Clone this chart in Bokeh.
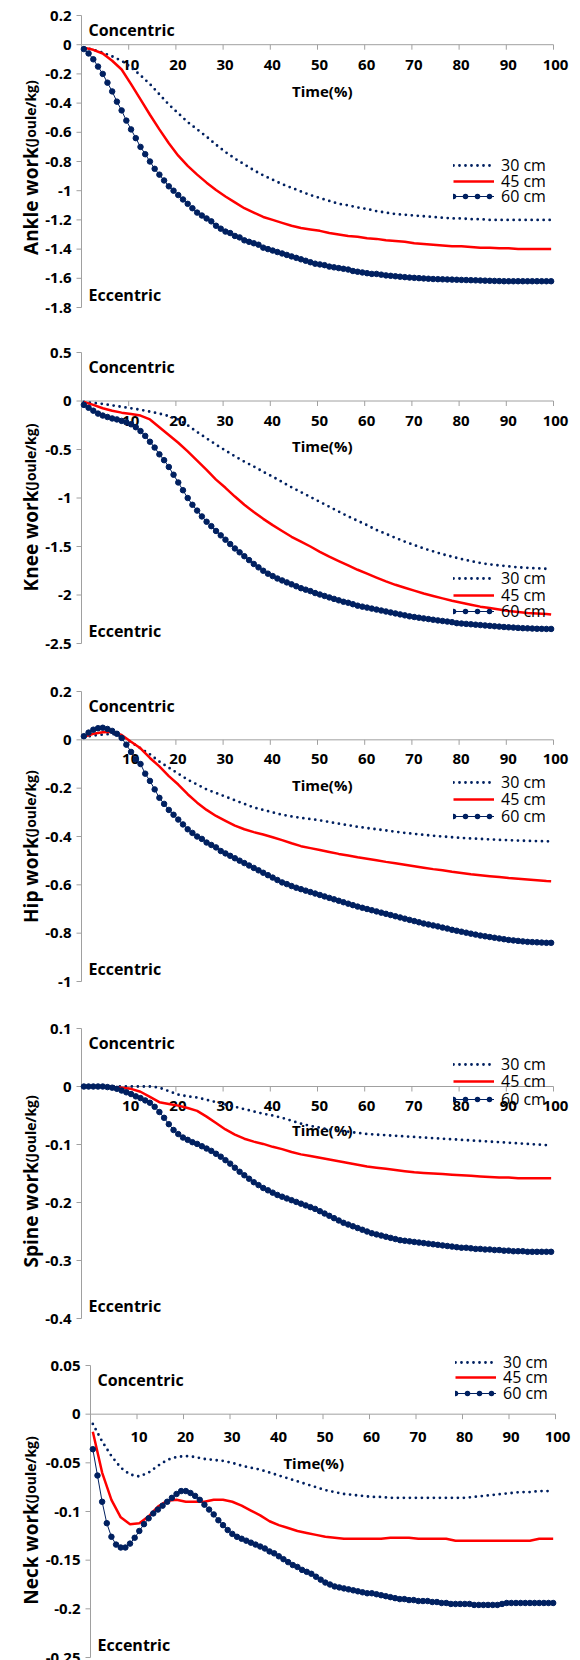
import math
from bokeh.plotting import figure
from bokeh.models import Range1d, Label, Legend, LegendItem
from bokeh.layouts import column
from bokeh.embed import file_html
from bokeh.resources import INLINE
from bokeh.core.properties import value

# ---------------- data ----------------
time_dense = list(range(1, 101))                 # every 1 % (marker series)
time_sparse = list(range(1, 100, 2)) + [100]     # every 2 % (line series)
x_ticks = [10, 20, 30, 40, 50, 60, 70, 80, 90, 100]
x_tick_labels = ["10", "20", "30", "40", "50", "60", "70", "80", "90", "100"]
series_labels = ["30 cm", "45 cm", "60 cm"]

ankle_ticks = [0.2, 0, -0.2, -0.4, -0.6, -0.8, -1, -1.2, -1.4, -1.6, -1.8]
knee_ticks = [0.5, 0, -0.5, -1, -1.5, -2, -2.5]
hip_ticks = [0.2, 0, -0.2, -0.4, -0.6, -0.8, -1]
spine_ticks = [0.1, 0, -0.1, -0.2, -0.3, -0.4]
neck_ticks = [0.05, 0, -0.05, -0.1, -0.15, -0.2, -0.25]

ankle_30 = [-0.02, -0.035, -0.055, -0.08, -0.11, -0.155, -0.21, -0.27, -0.34, -0.41,
            -0.47, -0.53, -0.58, -0.63, -0.685, -0.735, -0.78, -0.82, -0.86, -0.895,
            -0.925, -0.955, -0.98, -1.005, -1.03, -1.05, -1.07, -1.09, -1.10, -1.115,
            -1.125, -1.14, -1.15, -1.16, -1.165, -1.17, -1.175, -1.18, -1.185, -1.19,
            -1.19, -1.195, -1.195, -1.2, -1.2, -1.2, -1.2, -1.2, -1.2, -1.2,
            -1.2]
ankle_45 = [-0.02, -0.035, -0.06, -0.11, -0.17, -0.27, -0.375, -0.48, -0.58, -0.675,
            -0.76, -0.83, -0.89, -0.945, -0.995, -1.04, -1.08, -1.12, -1.15, -1.18,
            -1.20, -1.22, -1.24, -1.255, -1.265, -1.275, -1.29, -1.30, -1.31, -1.315,
            -1.325, -1.33, -1.34, -1.345, -1.35, -1.36, -1.365, -1.37, -1.375, -1.38,
            -1.38, -1.385, -1.39, -1.39, -1.395, -1.395, -1.40, -1.40, -1.40, -1.40,
            -1.40]
ankle_60 = [-0.03, -0.06, -0.10, -0.15, -0.20, -0.26, -0.32, -0.39, -0.45, -0.52,
            -0.58, -0.64, -0.70, -0.75, -0.80, -0.85, -0.89, -0.93, -0.97, -1.00,
            -1.03, -1.06, -1.09, -1.12, -1.15, -1.17, -1.19, -1.21, -1.24, -1.26,
            -1.28, -1.29, -1.31, -1.32, -1.34, -1.35, -1.36, -1.37, -1.39, -1.40,
            -1.41, -1.42, -1.43, -1.44, -1.45, -1.46, -1.47, -1.48, -1.49, -1.50,
            -1.505, -1.51, -1.52, -1.525, -1.53, -1.535, -1.54, -1.55, -1.555, -1.56,
            -1.565, -1.57, -1.57, -1.575, -1.58, -1.583, -1.586, -1.589, -1.592, -1.595,
            -1.597, -1.599, -1.601, -1.603, -1.605, -1.606, -1.607, -1.608, -1.609, -1.61,
            -1.611, -1.612, -1.613, -1.614, -1.615, -1.616, -1.617, -1.618, -1.619, -1.62,
            -1.62, -1.62, -1.62, -1.62, -1.62, -1.62, -1.62, -1.62, -1.62, -1.62]

knee_30 = [-0.01, -0.02, -0.03, -0.045, -0.06, -0.075, -0.09, -0.11, -0.13, -0.155,
           -0.19, -0.25, -0.32, -0.385, -0.45, -0.51, -0.57, -0.625, -0.675, -0.73,
           -0.78, -0.835, -0.89, -0.94, -0.99, -1.04, -1.09, -1.14, -1.19, -1.235,
           -1.28, -1.33, -1.37, -1.41, -1.45, -1.485, -1.52, -1.55, -1.58, -1.605,
           -1.63, -1.65, -1.67, -1.685, -1.695, -1.705, -1.715, -1.72, -1.725, -1.73,
           -1.73]
knee_45 = [-0.01, -0.04, -0.075, -0.10, -0.12, -0.135, -0.15, -0.19, -0.27, -0.35,
           -0.43, -0.52, -0.615, -0.71, -0.81, -0.895, -0.985, -1.07, -1.145, -1.215,
           -1.28, -1.34, -1.40, -1.45, -1.50, -1.555, -1.605, -1.65, -1.695, -1.74,
           -1.78, -1.82, -1.86, -1.895, -1.925, -1.955, -1.985, -2.01, -2.035, -2.06,
           -2.08, -2.10, -2.12, -2.135, -2.15, -2.165, -2.175, -2.185, -2.19, -2.195,
           -2.20]
knee_60 = [-0.04, -0.07, -0.10, -0.13, -0.15, -0.165, -0.18, -0.19, -0.205, -0.22,
           -0.24, -0.27, -0.31, -0.36, -0.42, -0.48, -0.55, -0.61, -0.68, -0.76,
           -0.84, -0.92, -1.00, -1.07, -1.13, -1.19, -1.245, -1.29, -1.34, -1.385,
           -1.43, -1.475, -1.52, -1.56, -1.60, -1.64, -1.68, -1.715, -1.75, -1.78,
           -1.805, -1.83, -1.85, -1.87, -1.89, -1.91, -1.93, -1.945, -1.96, -1.98,
           -1.995, -2.01, -2.025, -2.04, -2.055, -2.07, -2.08, -2.095, -2.11, -2.12,
           -2.13, -2.14, -2.15, -2.16, -2.17, -2.18, -2.19, -2.20, -2.21, -2.22,
           -2.227, -2.234, -2.241, -2.248, -2.255, -2.262, -2.268, -2.274, -2.28, -2.29,
           -2.294, -2.298, -2.302, -2.306, -2.31, -2.314, -2.318, -2.322, -2.326, -2.33,
           -2.333, -2.336, -2.339, -2.342, -2.344, -2.346, -2.348, -2.349, -2.35, -2.35]

hip_30 = [0.01, 0.018, 0.022, 0.025, 0.015, -0.01, -0.035, -0.06, -0.09, -0.115,
          -0.14, -0.165, -0.185, -0.205, -0.22, -0.235, -0.25, -0.265, -0.28, -0.29,
          -0.30, -0.31, -0.317, -0.323, -0.328, -0.333, -0.34, -0.347, -0.353, -0.36,
          -0.365, -0.37, -0.375, -0.38, -0.385, -0.389, -0.393, -0.397, -0.40, -0.403,
          -0.406, -0.408, -0.41, -0.412, -0.414, -0.415, -0.417, -0.418, -0.419, -0.42,
          -0.42]
hip_45 = [0.012, 0.025, 0.031, 0.033, 0.02, -0.008, -0.035, -0.075, -0.11, -0.15,
          -0.185, -0.225, -0.26, -0.29, -0.315, -0.335, -0.355, -0.37, -0.382, -0.392,
          -0.403, -0.415, -0.428, -0.44, -0.448, -0.456, -0.464, -0.472, -0.479, -0.486,
          -0.492, -0.498, -0.505, -0.511, -0.517, -0.523, -0.529, -0.535, -0.54, -0.546,
          -0.551, -0.556, -0.56, -0.564, -0.568, -0.572, -0.575, -0.578, -0.581, -0.584,
          -0.585]
hip_60 = [0.015, 0.03, 0.042, 0.048, 0.05, 0.045, 0.037, 0.025, 0.008, -0.02,
          -0.05, -0.08, -0.10, -0.14, -0.17, -0.205, -0.24, -0.265, -0.29, -0.31,
          -0.33, -0.35, -0.37, -0.385, -0.40, -0.41, -0.425, -0.435, -0.445, -0.46,
          -0.47, -0.48, -0.49, -0.50, -0.51, -0.52, -0.53, -0.54, -0.55, -0.56,
          -0.57, -0.58, -0.59, -0.597, -0.605, -0.612, -0.618, -0.624, -0.63, -0.636,
          -0.642, -0.648, -0.654, -0.66, -0.666, -0.672, -0.678, -0.684, -0.69, -0.695,
          -0.70, -0.705, -0.71, -0.715, -0.72, -0.725, -0.73, -0.735, -0.74, -0.745,
          -0.75, -0.755, -0.76, -0.764, -0.768, -0.772, -0.777, -0.781, -0.786, -0.79,
          -0.794, -0.798, -0.802, -0.806, -0.81, -0.813, -0.816, -0.819, -0.822, -0.825,
          -0.828, -0.83, -0.832, -0.834, -0.836, -0.837, -0.838, -0.839, -0.84, -0.84]

spine_30 = [0, 0, 0, 0, 0, 0, 0, 0, -0.002, -0.008,
            -0.014, -0.017, -0.019, -0.023, -0.027, -0.031, -0.035, -0.039, -0.043, -0.047,
            -0.05, -0.054, -0.059, -0.064, -0.068, -0.071, -0.074, -0.076, -0.078, -0.08,
            -0.082, -0.083, -0.084, -0.085, -0.086, -0.087, -0.088, -0.089, -0.09, -0.091,
            -0.092, -0.093, -0.094, -0.095, -0.096, -0.097, -0.098, -0.099, -0.1, -0.101,
            -0.101]
spine_45 = [0, 0, 0, -0.001, -0.002, -0.004, -0.009, -0.018, -0.027, -0.03,
            -0.033, -0.037, -0.042, -0.052, -0.063, -0.074, -0.083, -0.09, -0.095, -0.099,
            -0.104, -0.108, -0.113, -0.117, -0.12, -0.123, -0.126, -0.129, -0.132, -0.135,
            -0.138, -0.14, -0.142, -0.144, -0.146, -0.148, -0.149, -0.15, -0.151, -0.152,
            -0.153, -0.154, -0.155, -0.156, -0.157, -0.157, -0.158, -0.158, -0.158, -0.158,
            -0.158]
spine_60 = [0, 0, 0, 0, 0, -0.001, -0.002, -0.004, -0.007, -0.01,
            -0.013, -0.017, -0.02, -0.024, -0.028, -0.035, -0.044, -0.054, -0.065, -0.075,
            -0.082, -0.088, -0.092, -0.096, -0.099, -0.103, -0.107, -0.111, -0.116, -0.121,
            -0.127, -0.133, -0.14, -0.147, -0.153, -0.159, -0.165, -0.17, -0.175, -0.179,
            -0.183, -0.187, -0.19, -0.193, -0.196, -0.199, -0.202, -0.205, -0.208, -0.211,
            -0.215, -0.219, -0.223, -0.227, -0.231, -0.235, -0.238, -0.241, -0.244, -0.247,
            -0.25, -0.253, -0.255, -0.257, -0.259, -0.261, -0.263, -0.265, -0.266, -0.267,
            -0.268, -0.269, -0.27, -0.271, -0.272, -0.273, -0.274, -0.275, -0.276, -0.277,
            -0.278, -0.278, -0.279, -0.28, -0.28, -0.281, -0.281, -0.282, -0.282, -0.283,
            -0.283, -0.284, -0.284, -0.284, -0.285, -0.285, -0.285, -0.285, -0.285, -0.285]

neck_30 = [-0.01, -0.028, -0.043, -0.055, -0.062, -0.064, -0.06, -0.053, -0.047, -0.044,
           -0.043, -0.044, -0.046, -0.047, -0.048, -0.05, -0.053, -0.055, -0.057, -0.06,
           -0.063, -0.066, -0.069, -0.072, -0.075, -0.078, -0.08, -0.082, -0.083, -0.084,
           -0.085, -0.085, -0.086, -0.086, -0.086, -0.086, -0.086, -0.086, -0.086, -0.086,
           -0.086, -0.085, -0.084, -0.083, -0.082, -0.081, -0.08, -0.08, -0.079, -0.079,
           -0.079]
neck_45 = [-0.018, -0.06, -0.088, -0.106, -0.113, -0.112, -0.105, -0.095, -0.089, -0.088,
           -0.09, -0.09, -0.09, -0.088, -0.088, -0.09, -0.094, -0.099, -0.104, -0.11,
           -0.114, -0.117, -0.12, -0.122, -0.124, -0.126, -0.127, -0.128, -0.128, -0.128,
           -0.128, -0.128, -0.127, -0.127, -0.127, -0.128, -0.128, -0.128, -0.128, -0.13,
           -0.13, -0.13, -0.13, -0.13, -0.13, -0.13, -0.13, -0.13, -0.128, -0.128,
           -0.128]
neck_60 = [-0.036, -0.063, -0.09, -0.112, -0.126, -0.134, -0.137, -0.137, -0.133, -0.127,
           -0.12, -0.113, -0.107, -0.102, -0.098, -0.094, -0.09, -0.086, -0.082, -0.079,
           -0.079, -0.081, -0.084, -0.088, -0.093, -0.098, -0.103, -0.109, -0.114, -0.119,
           -0.123, -0.126, -0.128, -0.13, -0.132, -0.134, -0.136, -0.138, -0.141, -0.143,
           -0.146, -0.149, -0.152, -0.155, -0.157, -0.16, -0.162, -0.164, -0.167, -0.17,
           -0.173, -0.175, -0.177, -0.178, -0.179, -0.18, -0.181, -0.182, -0.183, -0.184,
           -0.184, -0.185, -0.186, -0.187, -0.188, -0.189, -0.19, -0.19, -0.191, -0.191,
           -0.192, -0.192, -0.192, -0.193, -0.193, -0.194, -0.194, -0.195, -0.195, -0.195,
           -0.195, -0.195, -0.196, -0.196, -0.196, -0.196, -0.196, -0.196, -0.195, -0.194,
           -0.194, -0.194, -0.194, -0.194, -0.194, -0.194, -0.194, -0.194, -0.194, -0.194]

# ---------------- style / layout ----------------
NAVY = "#002060"
RED = "#FF0000"
AXIS_GRAY = "#A0A0A0"
FONT = "Open Sans"
W = 580

# pixel layout of each panel (inside its own figure): L/R = x-axis 0/100, T/B = y top/bottom tick
panels = [
    dict(title="Ankle work", s30=ankle_30, s45=ankle_45, s60=ankle_60, ticks=ankle_ticks,
         yr=(-1.8, 0.2), H=330, L=81, R=553, T=15, B=307, split=146.7, leg_x=453,
         leg_rows=(166, 181.7, 197.3), time_x=51, time_off=46, xl_off=20, conc_x=88),
    dict(title="Knee work", s30=knee_30, s45=knee_45, s60=knee_60, ticks=knee_ticks,
         yr=(-2.5, 0.5), H=335, L=81, R=553, T=22, B=313, split=160, leg_x=453,
         leg_rows=(249, 265.5, 282), time_x=51, time_off=45, xl_off=20, conc_x=88),
    dict(title="Hip work", s30=hip_30, s45=hip_45, s60=hip_60, ticks=hip_ticks,
         yr=(-1.0, 0.2), H=339, L=81, R=553, T=26, B=316, split=171.7, leg_x=453,
         leg_rows=(118, 135, 152), time_x=51, time_off=45, xl_off=19, conc_x=88),
    dict(title="Spine work", s30=spine_30, s45=spine_45, s60=spine_60, ticks=spine_ticks,
         yr=(-0.4, 0.1), H=337, L=81, R=553, T=24, B=314, split=157.7, leg_x=453,
         leg_rows=(61, 78, 96), time_x=51, time_off=43, xl_off=19, conc_x=88),
    dict(title="Neck work", s30=neck_30, s45=neck_45, s60=neck_60, ticks=neck_ticks,
         yr=(-0.25, 0.05), H=319, L=90, R=555, T=24, B=316, split=161.7, leg_x=455,
         leg_rows=(21.7, 37.3, 53), time_x=48, time_off=49, xl_off=23, conc_x=97),
]


def make_panel(cfg):
    y0, y1 = cfg["yr"]
    H, L, R, T, B = cfg["H"], cfg["L"], cfg["R"], cfg["T"], cfg["B"]
    ppu = (R - L) / 100.0            # pixels per x unit
    ppy = (B - T) / (y1 - y0)        # pixels per y unit
    p = figure(frame_width=W, frame_height=H,
               x_range=Range1d(-L / ppu, (W - L) / ppu),
               y_range=Range1d(y0 - (H - B) / ppy, y1 + T / ppy),
               x_axis_location=None, y_axis_location=None, title=None,
               toolbar_location=None, output_backend="svg",
               min_border=0, min_border_left=0, min_border_right=0,
               min_border_top=0, min_border_bottom=0)
    p.outline_line_color = None
    p.grid.visible = False
    p.background_fill_color = "white"
    p.border_fill_color = "white"

    ticks = cfg["ticks"]
    # vertical value axis at x = 0
    p.segment(x0=[0], y0=[min(ticks)], x1=[0], y1=[max(ticks)], line_color=AXIS_GRAY, line_width=1)
    p.segment(x0=[-5 / ppu] * len(ticks), y0=ticks, x1=[0] * len(ticks), y1=ticks,
              line_color=AXIS_GRAY, line_width=1)
    p.text(x=[0] * len(ticks), y=ticks, text=[f"{t:g}" for t in ticks],
           text_align="right", text_baseline="middle", x_offset=-10,
           text_font=value(FONT), text_font_style="bold", text_font_size="15px", text_color="black")

    # horizontal category axis crossing at y = 0
    p.segment(x0=[0], y0=[0], x1=[max(x_ticks)], y1=[0], line_color=AXIS_GRAY, line_width=1)
    p.segment(x0=x_ticks, y0=[0] * len(x_ticks), x1=x_ticks, y1=[-5 / ppy] * len(x_ticks),
              line_color=AXIS_GRAY, line_width=1)
    p.text(x=x_ticks, y=[0] * len(x_ticks), text=x_tick_labels,
           text_align="center", text_baseline="middle", x_offset=2, y_offset=cfg["xl_off"],
           text_font=value(FONT), text_font_style="bold", text_font_size="15px", text_color="black")
    p.text(x=[cfg["time_x"]], y=[0], text=["Time(%)"],
           text_align="center", text_baseline="middle", y_offset=cfg["time_off"],
           text_font=value(FONT), text_font_style="bold", text_font_size="15px", text_color="black")

    xs_sparse = [t - 0.5 for t in time_sparse]
    xs_dense = [t - 0.5 for t in time_dense]
    r30 = p.line(xs_sparse, cfg["s30"], line_color=NAVY, line_width=2.8,
                 line_dash="0 6", line_cap="round")
    r45 = p.line(xs_sparse, cfg["s45"], line_color=RED, line_width=2.5)
    r60l = p.line(xs_dense, cfg["s60"], line_color=NAVY, line_width=1)
    p.scatter(xs_dense, cfg["s60"], size=5.5, fill_color=NAVY, line_color=NAVY)
    # legend-only swatch for the 60 cm key (a single undefined point: nothing is plotted)
    key60 = p.line(x=[float("nan")], y=[float("nan")], line_color=NAVY, line_width=5.5,
                   line_dash="0 12", line_cap="round")

    rends = [[r30], [r45], [r60l, key60]]
    for lab, rr, row in zip(series_labels, rends, cfg["leg_rows"]):
        leg = Legend(items=[LegendItem(label=lab, renderers=rr)],
                     location=(cfg["leg_x"], H - row - 10),
                     orientation="vertical", padding=0, margin=0, spacing=0,
                     glyph_width=41, glyph_height=20, label_height=20, label_standoff=7,
                     border_line_color=None, background_fill_alpha=0,
                     label_text_font=FONT, label_text_font_size="16px",
                     label_text_color="black")
        p.add_layout(leg)

    p.add_layout(Label(x=cfg["conc_x"], y=H - (T + 14), x_units="screen", y_units="screen",
                       text="Concentric", text_baseline="middle", text_font=FONT,
                       text_font_style="bold", text_font_size="16px", text_color="black"))
    p.add_layout(Label(x=cfg["conc_x"], y=H - (B - 13), x_units="screen", y_units="screen",
                       text="Eccentric", text_baseline="middle", text_font=FONT,
                       text_font_style="bold", text_font_size="16px", text_color="black"))

    p.add_layout(Label(x=30, y=H - cfg["split"], x_units="screen", y_units="screen",
                       text=cfg["title"], angle=math.pi / 2, text_align="right",
                       text_baseline="alphabetic", text_font=FONT, text_font_style="bold",
                       text_font_size="19px", text_color="black"))
    p.add_layout(Label(x=30, y=H - cfg["split"], x_units="screen", y_units="screen",
                       text="(Joule/kg)", angle=math.pi / 2, text_align="left",
                       text_baseline="alphabetic", text_font=FONT, text_font_style="bold",
                       text_font_size="14px", text_color="black"))
    return p


layout = column(*[make_panel(c) for c in panels], spacing=0)
open("out.html", "w").write(file_html(layout, INLINE))
